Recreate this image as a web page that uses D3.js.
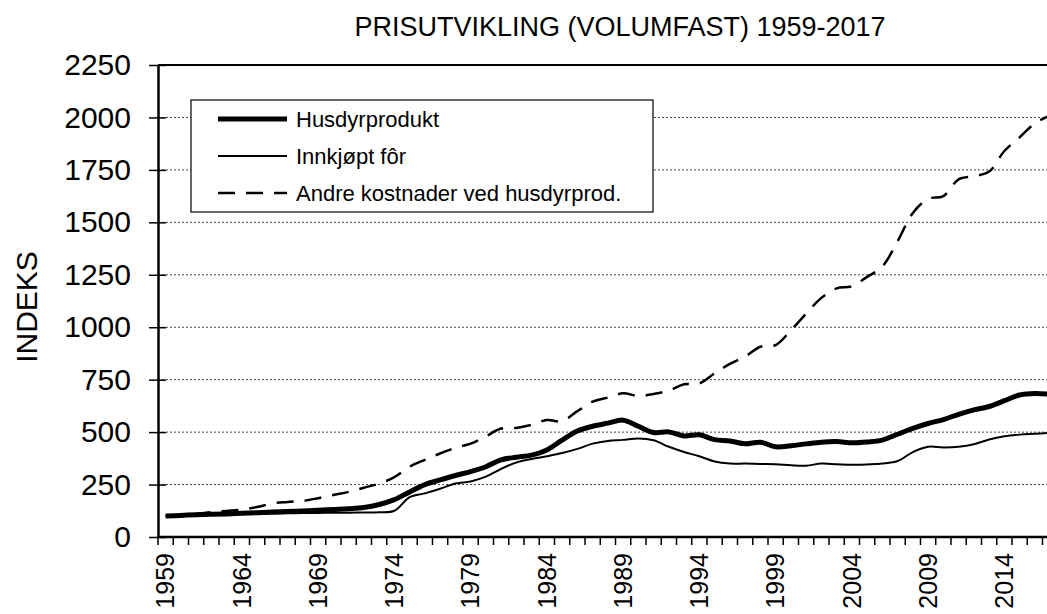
<!DOCTYPE html>
<html>
<head>
<meta charset="utf-8">
<script src="https://cdn.jsdelivr.net/npm/d3@7"></script>
<style>
  body { margin: 0; background: #fff; }
  text { font-family: "Liberation Sans", Arial, sans-serif; fill: #000; }
</style>
</head>
<body>
<div id="chart"></div>
<script>
// years 1959-2017
const years = d3.range(1959, 2018);

const husdyrprodukt = [100, 103, 106, 108, 110, 113, 116, 119, 121, 124,
  127, 131, 135, 141, 155, 178, 215, 250, 272, 293,
  312, 335, 368, 380, 390, 415, 462, 505, 528, 543,
  557, 528, 498, 501, 482, 487, 464, 458, 444, 452,
  430, 435, 444, 452, 455, 449, 453, 462, 490, 518,
  541, 560, 585, 606, 622, 650, 677, 684, 680];

const innkjoptFor = [100, 102, 104, 106, 108, 110, 111, 112, 113, 114,
  115, 116, 116, 117, 118, 125, 190, 208, 230, 255,
  265, 288, 325, 355, 372, 385, 400, 420, 445, 458,
  463, 470, 461, 430, 405, 385, 360, 350, 350, 348,
  347, 342, 340, 350, 347, 344, 346, 350, 362, 405,
  430, 427, 430, 442, 465, 480, 488, 492, 496];

const andreKostnader = [100, 105, 110, 118, 124, 130, 143, 160, 167, 172,
  185, 200, 215, 235, 255, 285, 335, 368, 398, 425,
  445, 480, 517, 520, 535, 558, 552, 600, 645, 665,
  685, 672, 682, 698, 728, 732, 780, 825, 860, 907,
  915, 985, 1065, 1140, 1185, 1195, 1240, 1290, 1410, 1545,
  1612, 1625, 1705, 1720, 1742, 1840, 1905, 1972, 2010];

const yTicks = [0, 250, 500, 750, 1000, 1250, 1500, 1750, 2000, 2250];
const xLabels = [1959, 1964, 1969, 1974, 1979, 1984, 1989, 1994, 1999, 2004, 2009, 2014];

const seriesNames = ["Husdyrprodukt", "Innkjøpt fôr", "Andre kostnader ved husdyrprod."];

const width = 1047;
const height = 614;
const plotLeft = 158, plotBottom = 537, plotTop = 65;
const step = 15.25;

const svg = d3.select("#chart")
  .append("svg")
  .attr("width", width)
  .attr("height", height);

const x = d3.scaleBand()
  .domain(years)
  .range([plotLeft, plotLeft + years.length * step]);

const y = d3.scaleLinear()
  .domain([0, 2250])
  .range([plotBottom, plotTop]);

// gridlines (dotted)
svg.append("g")
  .selectAll("line")
  .data(yTicks.filter(d => d > 0 && d < 2250))
  .enter().append("line")
  .attr("x1", plotLeft)
  .attr("x2", width)
  .attr("y1", d => y(d))
  .attr("y2", d => y(d))
  .attr("stroke", "#444")
  .attr("stroke-width", 1)
  .attr("stroke-dasharray", "2,2");

// top border of plot area
svg.append("line")
  .attr("x1", plotLeft).attr("x2", width)
  .attr("y1", y(2250)).attr("y2", y(2250))
  .attr("stroke", "#000")
  .attr("stroke-width", 2);

// y axis
const yAxis = svg.append("g")
  .attr("transform", `translate(${plotLeft},0)`)
  .call(d3.axisLeft(y).tickValues(yTicks).tickFormat(d3.format("d"))
    .tickSize(9).tickPadding(18).tickSizeOuter(0));
yAxis.select(".domain").attr("stroke-width", 2.5);
yAxis.selectAll(".tick line").attr("x2", 8).attr("x1", -9).attr("stroke-width", 1.5);
yAxis.attr("font-family", null).attr("font-size", null);
yAxis.selectAll(".tick text")
  .style("font-size", "30px");

// x axis
const xTickPos = years.map(d => x(d)).concat([x.range()[1]]);
svg.append("g")
  .selectAll("line")
  .data(xTickPos)
  .enter().append("line")
  .attr("x1", d => d).attr("x2", d => d)
  .attr("y1", plotBottom).attr("y2", plotBottom + 8)
  .attr("stroke", "#000")
  .attr("stroke-width", 1.5);

svg.append("line")
  .attr("x1", plotLeft - 1).attr("x2", width)
  .attr("y1", plotBottom).attr("y2", plotBottom)
  .attr("stroke", "#000")
  .attr("stroke-width", 2.5);

svg.append("g")
  .selectAll("text")
  .data(xLabels)
  .enter().append("text")
  .attr("transform", d => `translate(${x(d) + x.bandwidth() / 2},553) rotate(-90)`)
  .attr("text-anchor", "end")
  .attr("dy", "0.35em")
  .style("font-size", "25px")
  .text(d => d);

// lines
const line = d3.line()
  .x((d, i) => x(years[i]) + x.bandwidth() / 2)
  .y(d => y(d))
  .curve(d3.curveCatmullRom.alpha(0.5));

const styles = [
  { data: andreKostnader, w: 2.5, dash: "17,11" },
  { data: innkjoptFor, w: 2, dash: null },
  { data: husdyrprodukt, w: 5, dash: null }
];

styles.forEach(s => {
  svg.append("path")
    .datum(s.data)
    .attr("fill", "none")
    .attr("stroke", "#000")
    .attr("stroke-width", s.w)
    .attr("stroke-dasharray", s.dash)
    .attr("stroke-linejoin", "round")
    .attr("d", line);
});

// legend
svg.append("rect")
  .attr("x", 191).attr("y", 100)
  .attr("width", 462).attr("height", 112)
  .attr("fill", "#fff")
  .attr("stroke", "#000")
  .attr("stroke-width", 1.2);

const legendStyles = [
  { w: 5, dash: null },
  { w: 2, dash: null },
  { w: 2.5, dash: "17,11" }
];

const legend = svg.append("g")
  .selectAll("g")
  .data(seriesNames)
  .enter().append("g")
  .attr("transform", (d, i) => `translate(218,${119 + i * 37})`);

legend.append("line")
  .attr("x1", 0).attr("x2", 69)
  .attr("stroke", "#000")
  .attr("stroke-width", (d, i) => legendStyles[i].w)
  .attr("stroke-dasharray", (d, i) => legendStyles[i].dash);

legend.append("text")
  .attr("x", 78)
  .attr("dy", "0.35em")
  .style("font-size", "22px")
  .text(d => d);

// title
svg.append("text")
  .attr("x", 620)
  .attr("y", 36)
  .attr("text-anchor", "middle")
  .style("font-size", "27px")
  .text("PRISUTVIKLING (VOLUMFAST) 1959-2017");

// y axis title
svg.append("text")
  .attr("transform", "translate(26,307) rotate(-90)")
  .attr("text-anchor", "middle")
  .attr("dy", "0.35em")
  .style("font-size", "30px")
  .text("INDEKS");
</script>
</body>
</html>
